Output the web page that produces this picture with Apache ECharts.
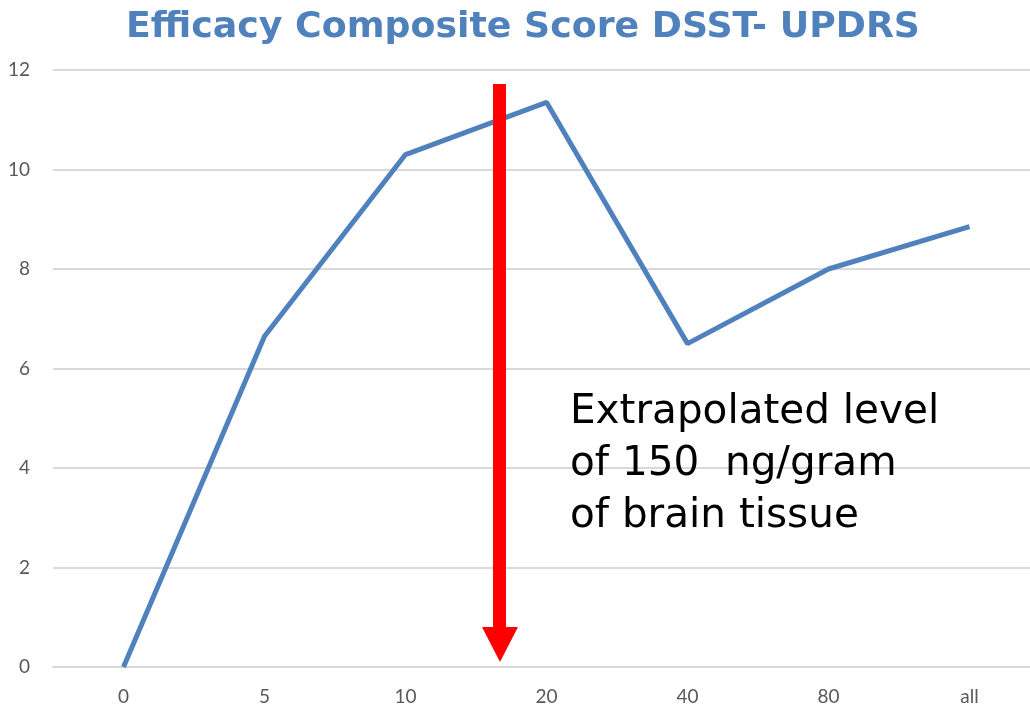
<!DOCTYPE html>
<html>
<head>
<meta charset="utf-8">
<script src="https://cdn.jsdelivr.net/npm/echarts@6/dist/echarts.min.js"></script>
<style>
    html, body { margin: 0; padding: 0; background: #fff; }
    #main { width: 1030px; height: 710px; }
</style>
</head>
<body>
<div id="main"></div>
<script>
// dose groups on the x axis and the composite score for each
var categories = ['0', '5', '10', '20', '40', '80', 'all'];
var scores = [0, 6.65, 10.3, 11.35, 6.5, 8.0, 8.85];
var yTicks = [0, 2, 4, 6, 8, 10, 12];
var noteLines = ['Extrapolated level', 'of 150  ng/gram', 'of brain tissue'];

var myChart = echarts.init(document.getElementById('main'));

var option = {
    animation: false,
    title: {
        text: 'Efficacy Composite Score DSST- UPDRS',
        left: 121,
        top: 5,
        textStyle: {
            fontFamily: 'DejaVu Sans',
            fontWeight: 'bold',
            fontSize: 36.3,
            color: '#4f81bd'
        }
    },
    grid: {
        left: 53,
        top: 70,
        width: 987,
        height: 597,
        outerBoundsMode: 'none'
    },
    xAxis: {
        type: 'category',
        data: categories,
        boundaryGap: true,
        axisLine: { lineStyle: { color: '#d9d9d9', width: 2 } },
        axisTick: { show: false },
        axisLabel: {
            margin: 20,
            fontFamily: 'Lato',
            fontSize: 19,
            color: '#595959'
        }
    },
    yAxis: {
        type: 'value',
        min: yTicks[0],
        max: yTicks[yTicks.length - 1],
        interval: 2,
        axisLine: { show: false },
        axisTick: { show: false },
        axisLabel: {
            margin: 23,
            fontFamily: 'Lato',
            fontSize: 19,
            color: '#595959'
        },
        splitLine: { lineStyle: { color: '#d9d9d9', width: 2 } }
    },
    series: [{
        type: 'line',
        data: scores,
        symbol: 'none',
        lineStyle: { color: '#4f81bd', width: 5 },
        z: 2
    }],
    graphic: [
        // red arrow (annotation)
        {
            type: 'rect',
            shape: { x: 493, y: 84, width: 13, height: 546 },
            style: { fill: '#ff0000' },
            z: 10
        },
        {
            type: 'polygon',
            shape: { points: [[482, 627], [518, 627], [500, 662]] },
            style: { fill: '#ff0000' },
            z: 10
        },
        {
            type: 'text',
            left: 570,
            top: 386,
            style: {
                text: noteLines.join('\n'),
                fontFamily: 'DejaVu Sans',
                fontSize: 40.5,
                lineHeight: 52,
                fill: '#000'
            },
            z: 10
        }
    ]
};

myChart.setOption(option);
</script>
</body>
</html>
